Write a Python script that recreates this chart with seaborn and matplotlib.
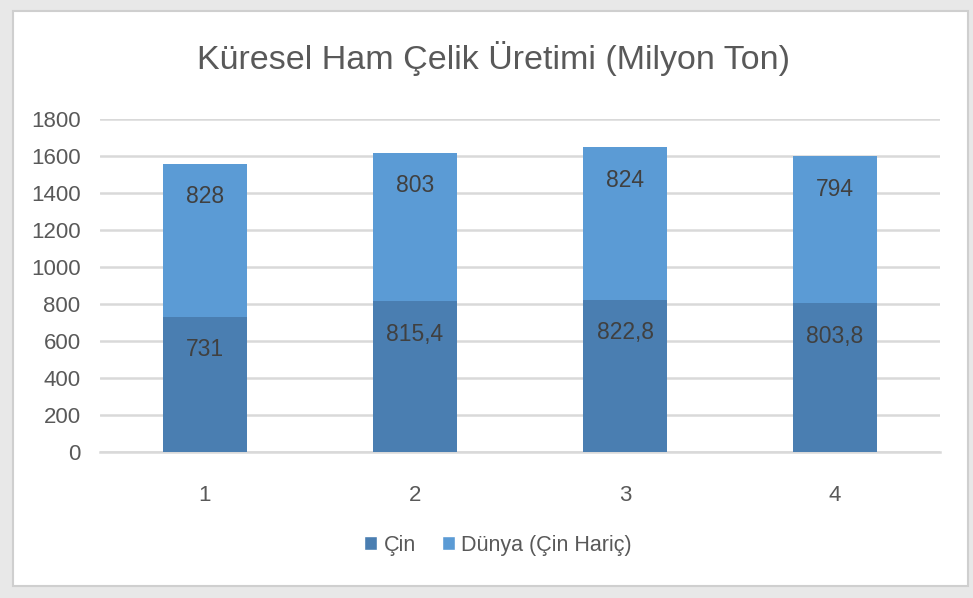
import numpy as np
import pandas as pd
import matplotlib
matplotlib.use("Agg")
import matplotlib.pyplot as plt
from matplotlib.patches import Rectangle, Patch
import seaborn as sns

# data
years = ["1", "2", "3", "4"]
cin = [731, 815.4, 822.8, 803.8]
dunya = [828, 803, 824, 794]
cin_labels = ["731", "815,4", "822,8", "803,8"]
dunya_labels = ["828", "803", "824", "794"]

dark_blue = "#4a7eb1"
light_blue = "#5b9bd5"
text_grey = "#595959"
grid_grey = "#d9d9d9"

sns.set_theme(style="white")
plt.rcParams["font.family"] = ["Liberation Sans", "DejaVu Sans"]

W, H = 973, 598
fig = plt.figure(figsize=(W / 100, H / 100), dpi=100, facecolor="#e8e8e8")

# white chart panel with thin grey frame
panel = Rectangle((13 / W, 1 - 586 / H), (968 - 13) / W, (586 - 11) / H,
                  transform=fig.transFigure, facecolor="white",
                  edgecolor="#cfcfcf", linewidth=1.5, zorder=-10)
fig.patches.append(panel)

ax = fig.add_axes([100 / W, 1 - 452 / H, (940 - 100) / W, (452 - 119) / H])
ax.set_facecolor("none")
ax.set_zorder(1)

df = pd.DataFrame({"year": years, "cin": cin, "dunya": dunya})
df["total"] = df["cin"] + df["dunya"]

sns.barplot(data=df, x="year", y="total", color=light_blue, width=0.4,
            saturation=1, linewidth=0, ax=ax, zorder=3)
sns.barplot(data=df, x="year", y="cin", color=dark_blue, width=0.4,
            saturation=1, linewidth=0, ax=ax, zorder=4)

ax.set_ylim(0, 1800)
ax.set_xlim(-0.5, 3.5)
ax.set_yticks(np.arange(0, 1801, 200))
ax.yaxis.grid(True, color=grid_grey, linewidth=1.8, zorder=0)
ax.set_axisbelow(True)
for s in ["top", "right", "left"]:
    ax.spines[s].set_visible(False)
ax.spines["bottom"].set_color(grid_grey)
ax.spines["bottom"].set_linewidth(1.8)
ax.tick_params(axis="both", length=0, labelsize=16, labelcolor=text_grey)
ax.tick_params(axis="x", pad=24)
ax.tick_params(axis="y", pad=14)
ax.set_xlabel("")
ax.set_ylabel("")

# value labels near top of each segment
off = -33 * 72 / 100
for i in range(len(years)):
    ax.annotate(cin_labels[i], (i, cin[i]), xytext=(0, off),
                textcoords="offset points", ha="center", va="center",
                fontsize=16.5, color="#404040", zorder=5)
    ax.annotate(dunya_labels[i], (i, cin[i] + dunya[i]), xytext=(0, off),
                textcoords="offset points", ha="center", va="center",
                fontsize=16.5, color="#404040", zorder=5)

fig.text(493 / W, 1 - 58 / H, "Küresel Ham Çelik Üretimi (Milyon Ton)",
         ha="center", va="center", fontsize=24.5, color=text_grey)

handles = [Patch(facecolor=dark_blue, label="Çin"),
           Patch(facecolor=light_blue, label="Dünya (Çin Hariç)")]
fig.legend(handles=handles, loc="center", bbox_to_anchor=(498 / W, 1 - 545 / H),
           ncol=2, frameon=False, fontsize=15.5, labelcolor=text_grey,
           handlelength=0.6, handleheight=0.6, handletextpad=0.3,
           columnspacing=1.2)

fig.savefig("out.png", dpi=100, facecolor=fig.get_facecolor())
